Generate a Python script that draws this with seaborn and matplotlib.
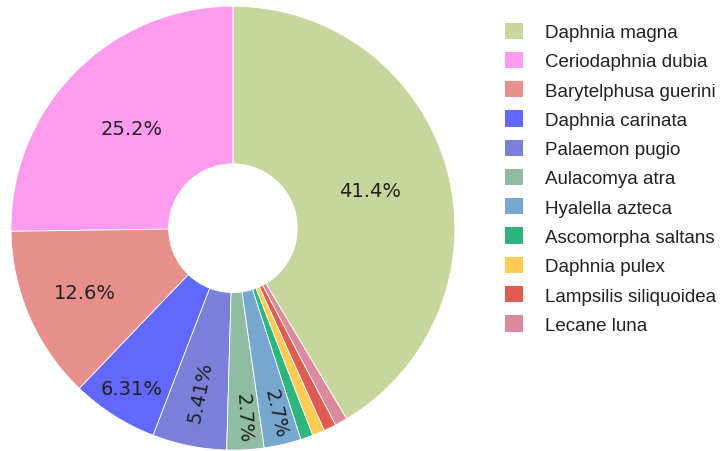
import numpy as np
import matplotlib
matplotlib.use("Agg")
import matplotlib.pyplot as plt
import matplotlib.patches as mpatches
import seaborn as sns

# species counts (111 total)
species = ["Daphnia magna", "Ceriodaphnia dubia", "Barytelphusa guerini",
           "Daphnia carinata", "Palaemon pugio", "Aulacomya atra",
           "Hyalella azteca", "Ascomorpha saltans", "Daphnia pulex",
           "Lampsilis siliquoidea", "Lecane luna"]
counts = [46, 28, 14, 7, 6, 3, 3, 1, 1, 1, 1]
colors = ["#c6d69c", "#fe9bee", "#e78f8b", "#6168fb", "#7a80d9", "#8fbca2",
          "#76a7cf", "#2db57d", "#fecb53", "#e05b52", "#da8a9c"]

sns.set_theme(style="white")
plt.rcParams["font.family"] = ["Liberation Sans", "DejaVu Sans"]

fig = plt.figure(figsize=(7.23, 4.52), dpi=100)
ax = fig.add_axes([0.0152, 0.002, 0.614, 0.982])

total = sum(counts)
start = 90 - 360 * counts[0] / total

wedges, _, autotexts = ax.pie(
    counts, colors=colors, startangle=start, counterclock=True,
    autopct=lambda p: f"{p:.3g}%" if p > 2 else "",
    pctdistance=0.64,
    wedgeprops=dict(width=0.71, edgecolor="white", linewidth=0.6),
    textprops=dict(fontsize=14, color="#222222", family="DejaVu Sans"),
)

# push text outward / rotate radially in the thinner slices, like plotly does
for w, t, c in zip(wedges, autotexts, counts):
    frac = c / total
    mid = np.deg2rad((w.theta1 + w.theta2) / 2)
    if frac > 0.2:
        r = 0.64
    elif frac > 0.1:
        r = 0.73
    elif 0.04 < frac < 0.06:
        r = 0.75
    else:
        r = 0.855
    t.set_position((r * np.cos(mid), r * np.sin(mid)))
    if frac < 0.06:
        rot = np.rad2deg(mid) - 180
        if rot > 90:
            rot -= 180
        t.set_rotation(rot)
    t.set_ha("center")
    t.set_va("center")

ax.set_xlim(-1, 1)
ax.set_ylim(-1, 1)
ax.set_aspect("equal")
ax.axis("off")

handles = [mpatches.Patch(facecolor=c, edgecolor="none") for c in colors]
fig.legend(handles, species, loc="upper left", bbox_to_anchor=(0.6985, 0.948),
           frameon=False, fontsize=13.5, handlelength=0.96, handleheight=0.96,
           handletextpad=1.15, labelspacing=0.57, borderpad=0, borderaxespad=0,
           labelcolor="#222222")

fig.savefig("out.png", dpi=100)
